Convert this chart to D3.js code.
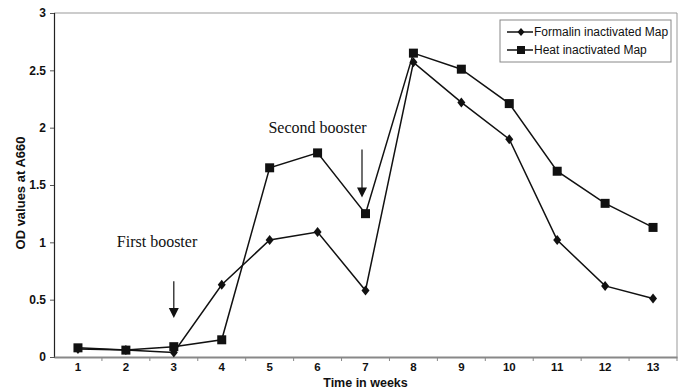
<!DOCTYPE html>
<html><head><meta charset="utf-8">
<script src="https://cdn.jsdelivr.net/npm/d3@7"></script>
<style>body{margin:0;background:#fff}svg{display:block}</style>
</head><body>
<svg id="c" width="685" height="390"></svg>
<script>
const weeks = [1,2,3,4,5,6,7,8,9,10,11,12,13];
const formalin = [0.07,0.06,0.04,0.63,1.02,1.09,0.58,2.57,2.22,1.90,1.02,0.62,0.51];
const heat = [0.08,0.06,0.09,0.15,1.65,1.78,1.25,2.65,2.51,2.21,1.62,1.34,1.13];
const yTicks = [0,0.5,1,1.5,2,2.5,3];
const yTickLabels = ["0","0.5","1","1.5","2","2.5","3"];
const seriesNames = ["Formalin inactivated Map","Heat inactivated Map"];
const annotations = [{text:"First booster", week:2.65, value:0.96},{text:"Second booster", week:6, value:1.95}];
const arrows = [{week:3, dx:0, from:0.66, to:0.34},{week:7, dx:-3.5, from:1.81, to:1.39}];

const svg = d3.select("#c");
const m = {l:54, r:677, t:13, b:357};
const x = d3.scaleBand().domain(weeks).range([m.l, m.r]);
const y = d3.scaleLinear().domain([0,3]).range([m.b, m.t]);
const cx = d => x(d) + x.bandwidth()/2;
const cxf = w => m.l + (w - 0.5) * x.bandwidth();
const SANS = "Liberation Sans, Arial, sans-serif";

// frame top/right
svg.append("path").attr("d",`M${m.l},${m.t}H${m.r}V${m.b}`).attr("fill","none").attr("stroke","#999").attr("stroke-width",1);

// y axis
const ya = svg.append("g").attr("transform",`translate(${m.l},0)`)
  .call(d3.axisLeft(y).tickValues(yTicks).tickFormat((d,i)=>yTickLabels[i]).tickSize(4).tickPadding(4));
ya.select(".domain").attr("stroke","#222").attr("stroke-width",1.2);
ya.selectAll(".tick line").attr("stroke","#555");
ya.selectAll("text").attr("font-family",SANS).attr("font-weight","bold").attr("font-size","12px").attr("fill","#111");

// x axis
const xa = svg.append("g").attr("transform",`translate(0,${m.b})`)
  .call(d3.axisBottom(x).tickSize(0).tickPadding(6));
xa.select(".domain").attr("stroke","#888").attr("stroke-width",1.8);
xa.selectAll("text").attr("font-family",SANS).attr("font-weight","bold").attr("font-size","11.5px").attr("fill","#111");
const bounds = weeks.slice(1).map(w => x(w)).concat([m.r]);
svg.append("g").selectAll("line").data(bounds).join("line")
  .attr("x1",d=>d).attr("x2",d=>d).attr("y1",m.b).attr("y2",m.b+4).attr("stroke","#888");

// titles
svg.append("text").attr("x",(m.l+m.r)/2).attr("y",386.5).attr("text-anchor","middle")
  .attr("font-family",SANS).attr("font-weight","bold").attr("font-size","12.5px").attr("fill","#111").text("Time in weeks");
svg.append("text").attr("transform",`translate(25,193) rotate(-90)`).attr("text-anchor","middle")
  .attr("font-family",SANS).attr("font-weight","bold").attr("font-size","13px").attr("fill","#111").text("OD values at A660");

// lines
const line = d3.line().x((d,i)=>cx(weeks[i])).y(d=>y(d));
[formalin, heat].forEach(s => {
  svg.append("path").datum(s).attr("d",line).attr("fill","none").attr("stroke","#111").attr("stroke-width",1.5);
});
// markers
svg.append("g").selectAll("path").data(formalin).join("path")
  .attr("transform",(d,i)=>`translate(${cx(weeks[i])},${y(d)})`)
  .attr("d","M0,-5L4,0L0,5L-4,0Z").attr("fill","#111");
svg.append("g").selectAll("rect").data(heat).join("rect")
  .attr("x",(d,i)=>cx(weeks[i])-4.5).attr("y",d=>y(d)-4.5).attr("width",9).attr("height",9).attr("fill","#111");

// annotations
const ann = svg.append("g");
annotations.forEach(a => {
  ann.append("text").attr("x",cxf(a.week)).attr("y",y(a.value)).attr("text-anchor","middle")
    .attr("font-family","Liberation Serif, Times New Roman, serif").attr("font-size","16px").attr("fill","#111").text(a.text);
});
arrows.forEach(a => {
  const xx = cx(a.week) + a.dx;
  ann.append("line").attr("x1",xx).attr("x2",xx).attr("y1",y(a.from)).attr("y2",y(a.to)-8).attr("stroke","#111").attr("stroke-width",1.2);
  ann.append("path").attr("d",`M${xx-5},${y(a.to)-10}L${xx+5},${y(a.to)-10}L${xx},${y(a.to)}Z`).attr("fill","#111");
});

// legend
const lg = svg.append("g");
const LX = 500;
lg.append("rect").attr("x",LX).attr("y",20).attr("width",171).attr("height",42).attr("fill","#fff").attr("stroke","#888");
seriesNames.forEach((n,i) => {
  const yy = 32 + i*18;
  lg.append("line").attr("x1",LX+7).attr("x2",LX+33).attr("y1",yy).attr("y2",yy).attr("stroke","#111").attr("stroke-width",1.5);
  if(i===0) lg.append("path").attr("transform",`translate(${LX+21},${yy})`).attr("d","M0,-4L3.5,0L0,4L-3.5,0Z").attr("fill","#111");
  else lg.append("rect").attr("x",LX+17).attr("y",yy-4).attr("width",8).attr("height",8).attr("fill","#111");
  lg.append("text").attr("x",LX+34).attr("y",yy+4).attr("font-family",SANS).attr("font-size","12px").attr("fill","#111").text(n);
});
</script>
</body></html>
